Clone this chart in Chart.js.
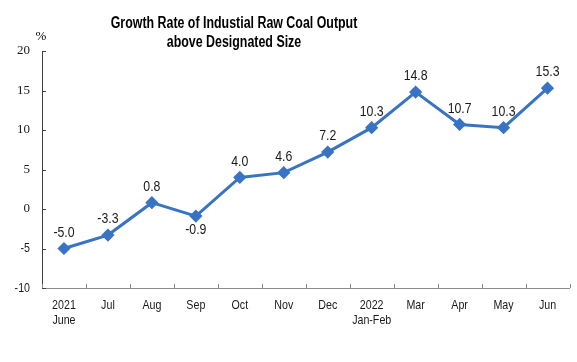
<!DOCTYPE html>
<html><head><meta charset="utf-8">
<script src="https://cdn.jsdelivr.net/npm/chart.js@4/dist/chart.umd.min.js"></script>
<style>html,body{margin:0;padding:0;background:#fff}#wrap{width:577px;height:362px}</style>
</head><body><div id="wrap"><canvas id="c" width="577" height="362"></canvas></div>
<script>
const categories = [["2021","June"],"Jul","Aug","Sep","Oct","Nov","Dec",["2022","Jan-Feb"],"Mar","Apr","May","Jun"];
const growthRate = [-5.0,-3.3,0.8,-0.9,4.0,4.6,7.2,10.3,14.8,10.7,10.3,15.3];
const yTicks = [-10,-5,0,5,10,15,20];
const titleLines = ["Growth Rate of Industial Raw Coal Output","above Designated Size"];
const unitLabel = "%";
const labelBelow = [false,false,false,true,false,false,false,false,false,false,false,false];

const SANS = '"Liberation Sans", Arial, sans-serif';
const SERIF = '"Liberation Serif", "Times New Roman", serif';
const SX = 0.82;

function condensed(ctx, text, x, y, sx){
  ctx.save(); ctx.translate(x,y); ctx.scale(sx,1); ctx.fillText(text,0,0); ctx.restore();
}

const extras = {
  id:'extras',
  afterDraw(chart){
    const ctx = chart.ctx, xs = chart.scales.x, ys = chart.scales.y, a = chart.chartArea;
    ctx.save();
    ctx.lineWidth = 1;
    ctx.strokeStyle = '#404040';
    ys.ticks.forEach(t=>{ const y = Math.round(ys.getPixelForValue(t.value))+0.5; ctx.beginPath(); ctx.moveTo(a.left,y); ctx.lineTo(a.left+4,y); ctx.stroke(); });
    ctx.strokeStyle = '#8c8c8c';
    for(let i=0;i<=categories.length;i++){
      const x = Math.round(xs.getPixelForValue(i-0.5))+0.5;
      ctx.beginPath(); ctx.moveTo(x,a.bottom); ctx.lineTo(x,a.bottom-4); ctx.stroke();
    }
    ctx.fillStyle = '#1a1a1a';
    ctx.textBaseline = 'middle';
    ctx.textAlign = 'right';
    ys.ticks.forEach(t=>{
      const y = ys.getPixelForValue(t.value);
      if (t.value >= 0){ ctx.font = '13px ' + SERIF; ctx.fillText(String(t.value), 30, y); }
      else { ctx.font = '13px ' + SANS; condensed(ctx, String(t.value), 30, y, SX); }
    });
    ctx.textAlign = 'center';
    ctx.font = '13px ' + SANS;
    categories.forEach((c,i)=>{
      const x = xs.getPixelForValue(i);
      const lines = Array.isArray(c) ? c : [c];
      lines.forEach((ln,j)=> condensed(ctx, ln, x, a.bottom + 17 + j*15, SX));
    });
    const meta = chart.getDatasetMeta(0);
    ctx.font = '15px ' + SANS;
    meta.data.forEach((p,i)=>{
      condensed(ctx, growthRate[i].toFixed(1), p.x, labelBelow[i] ? p.y+14 : p.y-16, SX);
    });
    ctx.fillStyle = '#000';
    ctx.font = 'bold 16px ' + SANS;
    condensed(ctx, titleLines[0], 234, 24, 0.775);
    condensed(ctx, titleLines[1], 234, 43, 0.775);
    ctx.font = '13px ' + SERIF;
    ctx.fillText(unitLabel, 41, 37);
    ctx.restore();
  }
};

new Chart(document.getElementById('c'), {
  type:'line',
  data:{ labels:categories, datasets:[{
    data:growthRate, borderColor:'#3873c4', backgroundColor:'#3873c4',
    borderWidth:3, pointStyle:'rectRot', pointRadius:4.5, pointHoverRadius:4.5, tension:0
  }]},
  options:{
    responsive:false, animation:false,
    layout:{padding:{top:51,right:3,left:0,bottom:0}},
    plugins:{legend:{display:false},title:{display:false},tooltip:{enabled:false}},
    scales:{
      x:{ offset:true,
        grid:{display:false},
        border:{display:true,color:'#8c8c8c',width:1},
        ticks:{display:false,autoSkip:false},
        afterFit(s){ s.height = 74; }
      },
      y:{ min:-10,max:20,
        afterBuildTicks(s){ s.ticks = yTicks.map(v=>({value:v})); },
        grid:{display:false},
        border:{display:true,color:'#404040',width:1},
        ticks:{display:false},
        afterFit(s){ s.width = 42; }
      }
    }
  },
  plugins:[extras]
});
</script></body></html>
